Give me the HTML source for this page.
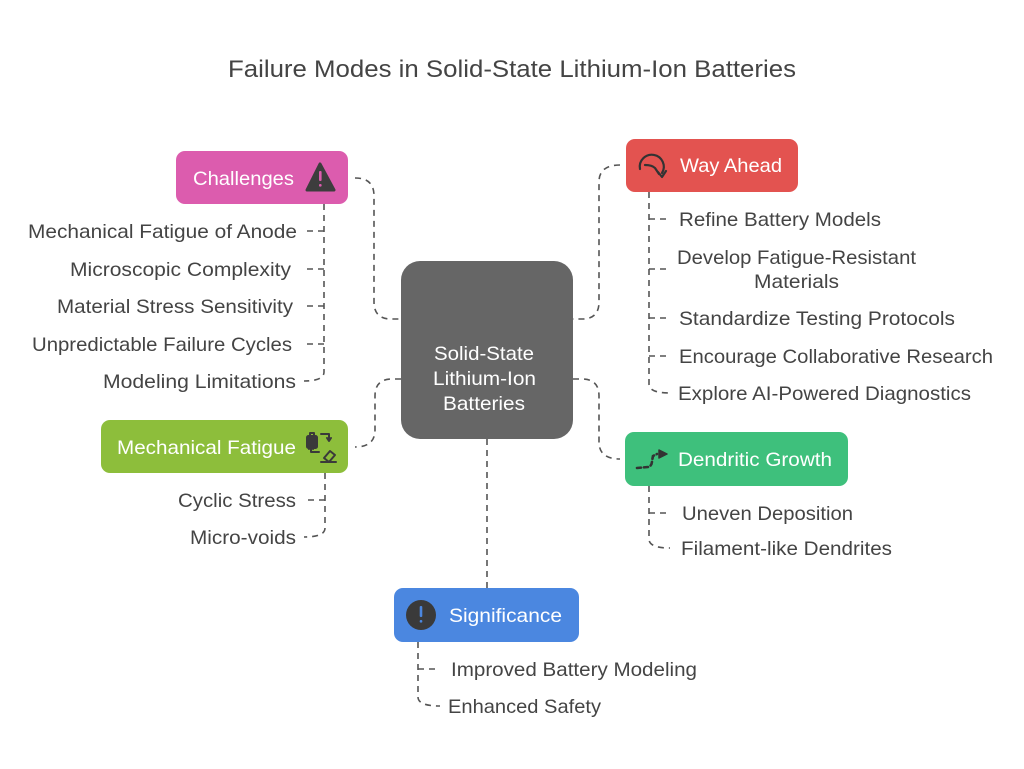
<!DOCTYPE html>
<html>
<head>
<meta charset="utf-8">
<style>
html,body{margin:0;padding:0;background:#fff;}
svg{display:block;}
text{font-family:"Liberation Sans",Arial,sans-serif;}
.it{font-size:19.5px;fill:#444;}
.lb{font-size:19.5px;fill:#fff;}
.d{fill:none;stroke:#555;stroke-width:1.6;stroke-dasharray:6 5;}
</style>
</head>
<body>
<svg width="1024" height="769" viewBox="0 0 1024 769" xmlns="http://www.w3.org/2000/svg">
<rect width="1024" height="769" fill="#fff"/>

<!-- Title -->
<text x="228" y="77" font-size="24" fill="#444" textLength="568" lengthAdjust="spacingAndGlyphs">Failure Modes in Solid-State Lithium-Ion Batteries</text>

<!-- Main connectors -->
<path class="d" d="M355,178 C368,178 374,184 374,196 L374,302 Q374,319 391,319 L401,319"/>
<path class="d" d="M401,379 L392,379 Q375,379 375,396 L375,430 Q375,447 355,447"/>
<path class="d" d="M620,165 Q599,165 599,182 L599,302 Q599,319 582,319 L573,319"/>
<path class="d" d="M573,379 L582,379 Q599,379 599,396 L599,442 Q599,459 620,459"/>
<path class="d" d="M487,439 L487,588"/>

<!-- Challenges branch -->
<path class="d" d="M324,204 L324,372 Q324,381 304,381"/>
<path class="d" d="M324,231 L303,231"/>
<path class="d" d="M324,269 L303,269"/>
<path class="d" d="M324,306 L303,306"/>
<path class="d" d="M324,344 L303,344"/>

<!-- Mechanical fatigue branch -->
<path class="d" d="M325,473 L325,528 Q325,537 304,537"/>
<path class="d" d="M325,500 L303,500"/>

<!-- Way Ahead branch -->
<path class="d" d="M649,192 L649,384 Q649,393 670,393"/>
<path class="d" d="M649,219 L670,219"/>
<path class="d" d="M649,269 L670,269"/>
<path class="d" d="M649,318 L670,318"/>
<path class="d" d="M649,356 L670,356"/>

<!-- Dendritic branch -->
<path class="d" d="M649,486 L649,539 Q649,548 670,548"/>
<path class="d" d="M649,513 L670,513"/>

<!-- Significance branch -->
<path class="d" d="M418,642 L418,697 Q418,706 440,706"/>
<path class="d" d="M418,669 L440,669"/>

<!-- Central box -->
<rect x="401" y="261" width="172" height="178" rx="19" fill="#666"/>
<text class="lb" x="434" y="360" textLength="100" lengthAdjust="spacingAndGlyphs">Solid-State</text>
<text class="lb" x="433" y="385" textLength="103" lengthAdjust="spacingAndGlyphs">Lithium-Ion</text>
<text class="lb" x="443" y="410" textLength="82" lengthAdjust="spacingAndGlyphs">Batteries</text>

<!-- Challenges -->
<rect x="176" y="151" width="172" height="53" rx="9" fill="#dc5cae"/>
<text class="lb" x="193" y="185" textLength="101" lengthAdjust="spacingAndGlyphs">Challenges</text>
<path d="M320,164 L334,190 L307,190 Z" fill="#3d3d3d" stroke="#3d3d3d" stroke-width="3" stroke-linejoin="round"/>
<rect x="319" y="171" width="2.6" height="10" rx="1" fill="#dc5cae"/>
<rect x="319" y="184" width="2.6" height="2.6" rx="1" fill="#dc5cae"/>

<!-- Mechanical Fatigue -->
<rect x="101" y="420" width="247" height="53" rx="9" fill="#8dbe3b"/>
<text class="lb" x="117" y="454" textLength="179" lengthAdjust="spacingAndGlyphs">Mechanical Fatigue</text>
<g fill="none" stroke="#3a3a3a" stroke-width="2" stroke-linecap="round" stroke-linejoin="round">
  <rect x="307" y="436" width="10" height="12" rx="1.5" fill="#3a3a3a"/>
  <path d="M310,436 L310,433 L314,433 L314,436"/>
  <path d="M321,434 L329,434 L329,440"/>
  <path d="M327,438 L329,441 L331,438"/>
  <path d="M319,452 L311,452 L311,447"/>
  <path d="M313,449 L311,446 L309,449"/>
  <path d="M324,458 L330,451 L335,455 L329,462 Z"/>
  <path d="M321,462 L336,462"/>
</g>

<!-- Way Ahead -->
<rect x="626" y="139" width="172" height="53" rx="9" fill="#e35350"/>
<text class="lb" x="680" y="172" textLength="102" lengthAdjust="spacingAndGlyphs">Way Ahead</text>
<g fill="none" stroke="#333" stroke-width="2.2" stroke-linecap="round" stroke-linejoin="round">
  <path d="M640,169 A12,12 0 1 1 662,173"/>
  <path d="M658,172 L662,177 L666,171"/>
  <path d="M645,165 Q652,165 655,168 Q657,171 659,174"/>
</g>

<!-- Dendritic Growth -->
<rect x="625" y="432" width="223" height="54" rx="9" fill="#3ec07c"/>
<text class="lb" x="678" y="466" textLength="154" lengthAdjust="spacingAndGlyphs">Dendritic Growth</text>
<g stroke="#333" stroke-width="2.6" stroke-linecap="round" fill="none">
  <path d="M637,468 L648,467 Q652,466 652,461 L653,456 L657,454" stroke-dasharray="4 3"/>
</g>
<path d="M659,450 L667,454 L659,458 Z" fill="#333" stroke="#333" stroke-width="1.5" stroke-linejoin="round"/>

<!-- Significance -->
<rect x="394" y="588" width="185" height="54" rx="9" fill="#4b87e0"/>
<circle cx="421" cy="615" r="15" fill="#3a3a3a"/>
<rect x="419.7" y="606" width="2.6" height="11" rx="1" fill="#4b87e0"/>
<rect x="419.7" y="620" width="2.6" height="2.6" rx="1" fill="#4b87e0"/>
<text class="lb" x="449" y="622" textLength="113" lengthAdjust="spacingAndGlyphs">Significance</text>

<!-- Left items -->
<text class="it" x="28" y="238" textLength="269" lengthAdjust="spacingAndGlyphs">Mechanical Fatigue of Anode</text>
<text class="it" x="70" y="276" textLength="221" lengthAdjust="spacingAndGlyphs">Microscopic Complexity</text>
<text class="it" x="57" y="313" textLength="236" lengthAdjust="spacingAndGlyphs">Material Stress Sensitivity</text>
<text class="it" x="32" y="351" textLength="260" lengthAdjust="spacingAndGlyphs">Unpredictable Failure Cycles</text>
<text class="it" x="103" y="388" textLength="193" lengthAdjust="spacingAndGlyphs">Modeling Limitations</text>

<text class="it" x="178" y="507" textLength="118" lengthAdjust="spacingAndGlyphs">Cyclic Stress</text>
<text class="it" x="190" y="544" textLength="106" lengthAdjust="spacingAndGlyphs">Micro-voids</text>

<!-- Right items -->
<text class="it" x="679" y="226" textLength="202" lengthAdjust="spacingAndGlyphs">Refine Battery Models</text>
<text class="it" x="677" y="264" textLength="239" lengthAdjust="spacingAndGlyphs">Develop Fatigue-Resistant</text>
<text class="it" x="754" y="288" textLength="85" lengthAdjust="spacingAndGlyphs">Materials</text>
<text class="it" x="679" y="325" textLength="276" lengthAdjust="spacingAndGlyphs">Standardize Testing Protocols</text>
<text class="it" x="679" y="363" textLength="314" lengthAdjust="spacingAndGlyphs">Encourage Collaborative Research</text>
<text class="it" x="678" y="400" textLength="293" lengthAdjust="spacingAndGlyphs">Explore AI-Powered Diagnostics</text>

<text class="it" x="682" y="520" textLength="171" lengthAdjust="spacingAndGlyphs">Uneven Deposition</text>
<text class="it" x="681" y="555" textLength="211" lengthAdjust="spacingAndGlyphs">Filament-like Dendrites</text>

<text class="it" x="451" y="676" textLength="246" lengthAdjust="spacingAndGlyphs">Improved Battery Modeling</text>
<text class="it" x="448" y="713" textLength="153" lengthAdjust="spacingAndGlyphs">Enhanced Safety</text>
</svg>
</body>
</html>
